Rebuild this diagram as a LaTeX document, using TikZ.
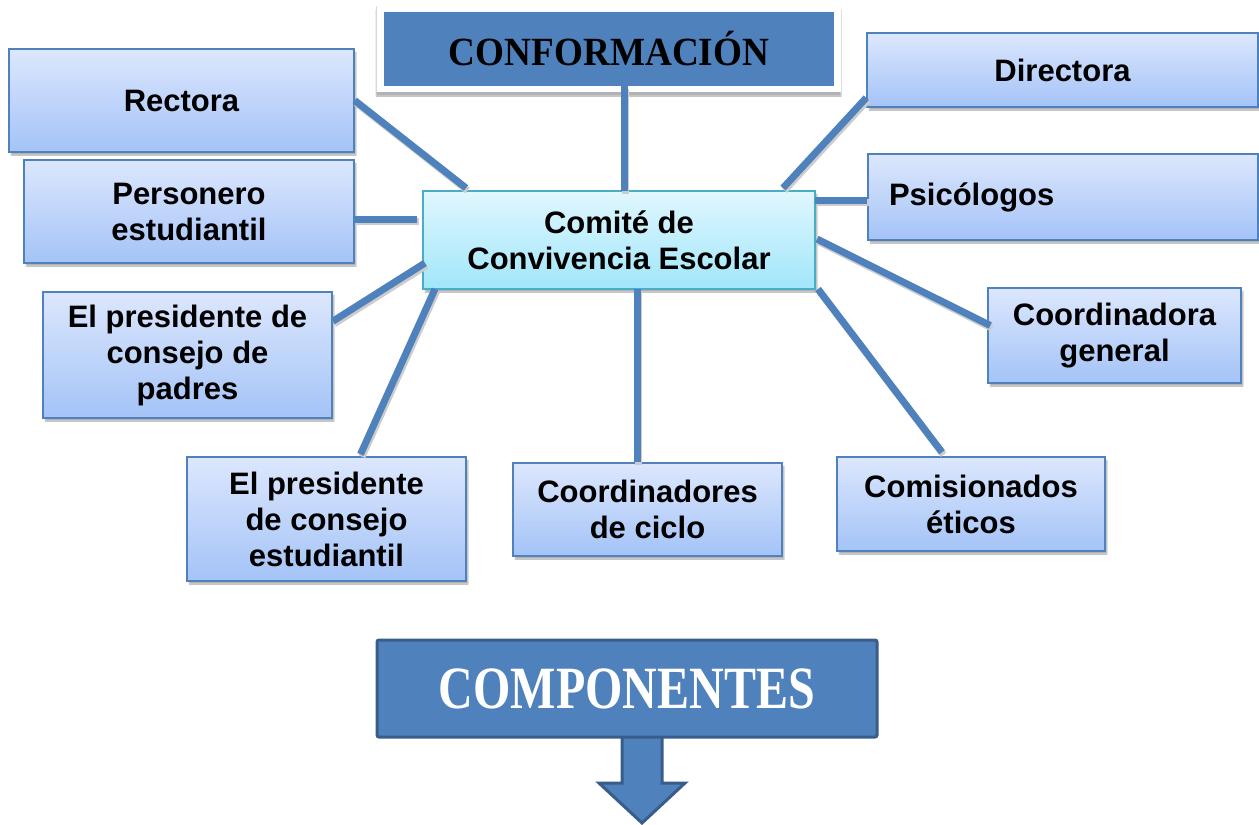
\documentclass[tikz,border=0pt]{standalone}
\usepackage{fontspec}
\setmainfont{Liberation Serif}
\setsansfont{Liberation Sans}
\usepackage{xcolor}
\usepackage{tikz}
\usetikzlibrary{calc}
\usetikzlibrary{shadows.blur}

\definecolor{boxtop}{HTML}{DCE7FD}
\definecolor{boxbot}{HTML}{A4C3F7}
\definecolor{boxline}{HTML}{4F81BD}
\definecolor{hubtop}{HTML}{E1F7FE}
\definecolor{hubbot}{HTML}{A0E6FA}
\definecolor{hubline}{HTML}{4BACC6}
\definecolor{darkline}{HTML}{385D8A}

\tikzset{
    boxshadow/.style={blur shadow={shadow xshift=2pt, shadow yshift=-3pt, shadow blur radius=1pt, shadow opacity=30}},
    member/.style={draw=boxline, line width=1.5pt, top color=boxtop, bottom color=boxbot, inner sep=0pt, align=center,
        font=\sffamily\bfseries\fontsize{31}{36}\selectfont, boxshadow},
    hub/.style={member, draw=hubline, top color=hubtop, bottom color=hubbot},
    spoke/.style={draw=boxline, line width=7pt,
        preaction={draw=black!20, line width=7pt, transform canvas={xshift=1.5pt, yshift=-2.5pt}}},
}

\begin{document}
\begin{tikzpicture}[x=1pt,y=-1pt]
            \useasboundingbox (0,0) rectangle (1259,825);
            %title
            \fill [white, blur shadow={shadow xshift=0pt, shadow yshift=-4pt, shadow blur radius=1pt, shadow opacity=30}]
                (376,6) rectangle (841,92);
            \draw [black!15] (376,6) -- (376,92);
            \node (conf) [fill=boxline, minimum width=450pt, minimum height=74pt, inner sep=0pt,
                font=\bfseries\fontsize{40}{40}\selectfont] at (609,49) {\scalebox{0.93}[1]{CONFORMACIÓN}};
            %
            %hub
            \node (comite) [hub, minimum width=392pt, minimum height=98pt] at (619,240) {Comité de\\Convivencia Escolar};
            %
            %members
            \node (rect) [member, minimum width=345pt, minimum height=103pt] at (181.5,100.5) {Rectora};
            \node (pers) [member, minimum width=330pt, minimum height=103pt] at (189,211.5) {Personero\\estudiantil};
            \node (padres) [member, minimum width=289pt, minimum height=126pt] at (187.5,355) {El presidente de\\consejo de\\padres};
            \node (estud) [member, minimum width=279pt, minimum height=124pt] at (326.5,519) {El presidente\\de consejo\\estudiantil};
            \node (ciclo) [member, minimum width=269pt, minimum height=93pt] at (647.5,509.5) {Coordinadores\\de ciclo};
            \node (comis) [member, minimum width=268pt, minimum height=94pt] at (971,504) {Comisionados\\éticos};
            \node (cgen) [member, minimum width=253pt, minimum height=95pt] at (1114.5,335.5) {Coordinadora\\general};
            \node (psi) [member, text width=348pt, inner xsep=21pt, minimum height=86pt, align=left] at (1063,197) {Psicólogos};
            \node (dir) [member, minimum width=391pt, minimum height=74pt] at (1062.5,70) {Directora};
            %
            %hub ends of the spokes
            \coordinate (h-rect) at (466,188);
            \coordinate (h-conf) at (624,191);
            \coordinate (h-dir) at (783,188);
            \coordinate (h-psi) at (815,200);
            \coordinate (h-pers) at (417,219);
            \coordinate (h-cgen) at (817,239);
            \coordinate (h-padres) at (425,263);
            \coordinate (h-estud) at (435,289);
            \coordinate (h-ciclo) at (637,289);
            \coordinate (h-comis) at (818,289);
            %
            %spokes
            \draw [spoke] (rect.east) -- (h-rect);
            \draw [spoke] (conf.south -| h-conf) -- (h-conf);
            \draw [spoke] ($(dir.south west)+(0,-10)$) -- (h-dir);
            \draw [spoke] (psi.west |- h-psi) -- (h-psi);
            \draw [spoke] (pers.east |- h-pers) -- (h-pers);
            \draw [spoke] ($(cgen.west)+(3,-10)$) -- (h-cgen);
            \draw [spoke] ($(padres.north east)+(0,30)$) -- (h-padres);
            \draw [spoke] ($(estud.north)+(34,-2)$) -- (h-estud);
            \draw [spoke] (ciclo.north -| h-ciclo) -- (h-ciclo);
            \draw [spoke] ($(comis.north)+(-29,-4)$) -- (h-comis);
            %
            %components
            \draw [draw=darkline, fill=boxline, line width=3pt, line join=miter]
                (622,735) -- (622,783) -- (599,783) -- (642,823) -- (685,783) -- (662,783) -- (662,735);
            \node (comp) [draw=darkline, fill=boxline, line width=3pt, rounded corners=2pt, minimum width=500pt,
                minimum height=97pt, inner sep=0pt, text=white, font=\bfseries\fontsize{60}{60}\selectfont]
                at (627,688.5) {\scalebox{0.8}[1]{COMPONENTES}};
            %
        \end{tikzpicture}
\end{document}
